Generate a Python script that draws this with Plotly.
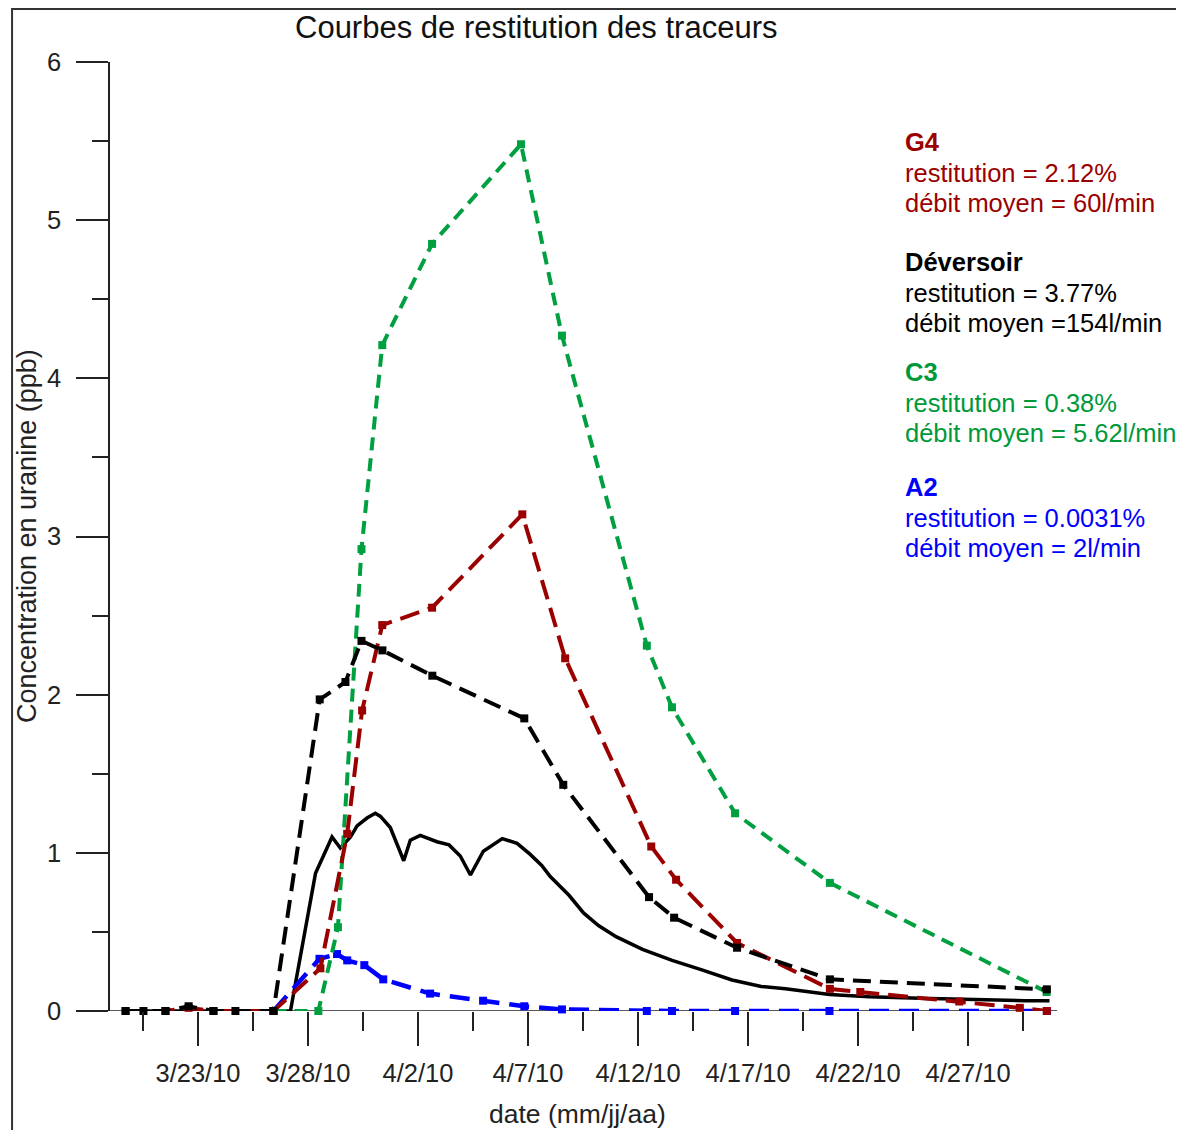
import plotly.graph_objects as go

# ---- data ----
dev_ech_x = ["2010-03-19 17:00", "2010-03-20 12:30", "2010-03-21 12:30", "2010-03-22 13:45",
             "2010-03-23 16:50", "2010-03-24 16:50", "2010-03-26 10:20", "2010-03-28 12:45",
             "2010-03-29 16:50", "2010-03-30 10:20", "2010-03-31 09:10", "2010-04-02 15:35",
             "2010-04-06 19:55", "2010-04-08 14:25", "2010-04-12 12:00", "2010-04-13 15:20",
             "2010-04-16 12:00", "2010-04-20 17:15", "2010-04-30 13:55"]
dev_ech_y = [0, 0, 0, 0.03, 0, 0, 0, 1.97, 2.08, 2.34, 2.28, 2.12, 1.85, 1.43, 0.72, 0.59, 0.40, 0.20, 0.137]

g4_x = ["2010-03-19 17:00", "2010-03-21 12:30", "2010-03-22 13:45", "2010-03-23 16:50",
        "2010-03-26 10:20", "2010-03-28 13:30", "2010-03-29 18:45", "2010-03-30 11:00",
        "2010-03-31 09:00", "2010-04-02 15:20", "2010-04-06 17:45", "2010-04-08 16:30",
        "2010-04-12 14:25", "2010-04-13 17:30", "2010-04-16 12:00", "2010-04-20 17:15",
        "2010-04-22 02:25", "2010-04-26 14:25", "2010-04-29 08:25", "2010-04-30 13:55"]
g4_y = [0, 0, 0.02, 0, 0, 0.27, 1.12, 1.90, 2.44, 2.55, 3.14, 2.23, 1.04, 0.83, 0.43, 0.14,
        0.12, 0.06, 0.02, 0.0]

a2_x = ["2010-03-26 10:20", "2010-03-28 12:30", "2010-03-29 07:40", "2010-03-29 18:45",
        "2010-03-30 13:25", "2010-03-31 10:05", "2010-04-02 13:10", "2010-04-04 23:00",
        "2010-04-06 19:55", "2010-04-08 13:00", "2010-04-12 09:35", "2010-04-13 13:00",
        "2010-04-16 09:50", "2010-04-20 16:50", "2010-04-30 13:55"]
a2_y = [0, 0.33, 0.36, 0.32, 0.29, 0.20, 0.11, 0.065, 0.03, 0.01, 0, 0, 0, 0, 0]

c3_x = ["2010-03-26 10:20", "2010-03-28 11:15", "2010-03-29 08:40", "2010-03-30 10:20",
        "2010-03-31 09:00", "2010-04-02 15:20", "2010-04-06 16:20", "2010-04-08 13:00",
        "2010-04-12 09:35", "2010-04-13 13:00", "2010-04-16 09:50", "2010-04-20 17:15",
        "2010-04-30 13:40"]
c3_y = [0, 0, 0.53, 2.92, 4.21, 4.85, 5.48, 4.27, 2.31, 1.92, 1.25, 0.81, 0.12]

dev_cont_x = ["2010-03-19 17:00", "2010-03-27 04:50", "2010-03-28 08:10", "2010-03-28 13:25",
              "2010-03-29 02:10", "2010-03-29 11:15", "2010-03-29 22:20", "2010-03-30 05:30",
              "2010-03-30 16:20", "2010-03-31 01:25", "2010-03-31 07:00", "2010-03-31 17:45",
              "2010-04-01 01:10", "2010-04-01 08:25", "2010-04-01 15:35", "2010-04-02 02:25",
              "2010-04-02 20:40", "2010-04-03 09:50", "2010-04-03 22:05", "2010-04-04 09:10",
              "2010-04-04 23:15", "2010-04-05 19:55", "2010-04-06 12:00", "2010-04-07 02:25",
              "2010-04-07 14:55", "2010-04-08 00:15", "2010-04-08 20:55", "2010-04-09 12:30",
              "2010-04-10 04:50", "2010-04-11 00:00", "2010-04-12 04:50", "2010-04-13 13:10",
              "2010-04-14 21:35", "2010-04-16 06:30", "2010-04-17 14:25", "2010-04-18 16:50",
              "2010-04-20 16:50", "2010-04-22 12:00", "2010-04-24 19:10", "2010-04-27 04:50",
              "2010-04-29 14:25", "2010-04-30 16:50"]
dev_cont_y = [0, 0, 0.87, 0.94, 1.10, 1.03, 1.10, 1.17, 1.22, 1.25, 1.23, 1.16, 1.06, 0.95,
              1.08, 1.11, 1.07, 1.05, 0.98, 0.86, 1.01, 1.09, 1.06, 0.99, 0.92, 0.85, 0.73,
              0.62, 0.54, 0.47, 0.39, 0.32, 0.26, 0.196, 0.155, 0.14, 0.105, 0.09, 0.08, 0.07,
              0.065, 0.065]

info_blocks = [
    ("G4", ["restitution = 2.12%", "débit moyen = 60l/min"], "#9B0000"),
    ("Déversoir", ["restitution = 3.77%", "débit moyen =154l/min"], "#000000"),
    ("C3", ["restitution = 0.38%", "débit moyen = 5.62l/min"], "#00993A"),
    ("A2", ["restitution = 0.0031%", "débit moyen = 2l/min"], "#0000FF"),
]
info_top_px = [142, 262, 372, 487]

FONT = "Liberation Sans, Arial, sans-serif"
RED = "#9B0000"
GREEN = "#00A040"
BLUE = "#0000FF"

OFF = 8  # page body margin
W, H = 1184 - OFF, 1130 - OFF
L = 110 - OFF
T = 62 - OFF
R = W - (1057.5 - OFF)
B = H - (1011 - OFF)
PW = W - L - R
PH = H - T - B


def px_x(p):
    return (p - OFF - L) / PW


def px_y(p):
    return (H - B - (p - OFF)) / PH


fig = go.Figure()

fig.add_trace(go.Scatter(x=dev_cont_x, y=dev_cont_y, mode="lines",
                         line=dict(color="black", width=3.5), cliponaxis=False))
fig.add_trace(go.Scatter(x=a2_x, y=a2_y, mode="lines+markers",
                         line=dict(color=BLUE, width=4.5, dash="20px,10px"),
                         marker=dict(symbol="square", size=8, color=BLUE), cliponaxis=False))
fig.add_trace(go.Scatter(x=c3_x, y=c3_y, mode="lines+markers",
                         line=dict(color=GREEN, width=4, dash="13px,8px"),
                         marker=dict(symbol="square", size=8, color=GREEN), cliponaxis=False))
fig.add_trace(go.Scatter(x=g4_x, y=g4_y, mode="lines+markers",
                         line=dict(color=RED, width=4, dash="20px,9px"),
                         marker=dict(symbol="square", size=8, color=RED), cliponaxis=False))
fig.add_trace(go.Scatter(x=dev_ech_x, y=dev_ech_y, mode="lines+markers",
                         line=dict(color="black", width=4, dash="18px,9px"),
                         marker=dict(symbol="square", size=8, color="black"), cliponaxis=False))

annotations = []
annotations.append(dict(text="Courbes de restitution des traceurs", x=px_x(536), y=px_y(27),
                        xref="paper", yref="paper", showarrow=False, xanchor="center",
                        yanchor="middle", font=dict(family=FONT, size=31, color="#111")))
annotations.append(dict(text="date (mm/jj/aa)", x=px_x(578), y=px_y(1114),
                        xref="paper", yref="paper", showarrow=False, xanchor="center",
                        yanchor="middle", font=dict(family=FONT, size=26.5, color="#222")))
annotations.append(dict(text="Concentration en uranine (ppb)", x=px_x(27), y=px_y(536),
                        xref="paper", yref="paper", showarrow=False, xanchor="center",
                        yanchor="middle", textangle=-90,
                        font=dict(family=FONT, size=27, color="#222")))
for (head, lines, col), top in zip(info_blocks, info_top_px):
    annotations.append(dict(text="<b>" + head + "</b>", x=px_x(903), y=px_y(top),
                            xref="paper", yref="paper", showarrow=False, xanchor="left",
                            yanchor="middle", font=dict(family=FONT, size=25.5, color=col)))
    for i, ln in enumerate(lines):
        annotations.append(dict(text=ln, x=px_x(903), y=px_y(top + 31 + 30 * i),
                                xref="paper", yref="paper", showarrow=False, xanchor="left",
                                yanchor="middle", font=dict(family=FONT, size=25.5, color=col)))

shapes = [
    dict(type="line", xref="paper", yref="y", x0=px_x(78), x1=1.0, y0=0, y1=0,
         line=dict(color="#222", width=1.5), layer="below"),
    dict(type="rect", xref="paper", yref="paper", x0=px_x(12), x1=px_x(1250),
         y0=px_y(1200), y1=px_y(9), line=dict(color="#333", width=2)),
]

fig.update_layout(
    width=W, height=H, autosize=False,
    margin=dict(l=L, r=R, t=T, b=B, pad=0),
    paper_bgcolor="white", plot_bgcolor="white",
    showlegend=False,
    annotations=annotations, shapes=shapes,
    font=dict(family=FONT, size=25, color="#222"),
)
fig.update_xaxes(
    type="date", range=["2010-03-19 00:00", "2010-05-01 01:00"],
    showgrid=False, zeroline=False, showline=False,
    ticks="outside", ticklen=34, tickwidth=1.5, tickcolor="#222",
    tick0="2010-03-23", dtick=5 * 86400000, tickformat="%-m/%-d/%y",
    ticklabelstandoff=5,
    tickfont=dict(family=FONT, size=25.5, color="#222"),
    minor=dict(ticks="outside", ticklen=19, tickwidth=1.5, tickcolor="#222",
               tick0="2010-03-23", dtick=2.5 * 86400000, showgrid=False),
)
fig.update_yaxes(
    range=[0, 6], showgrid=False, zeroline=False, showline=True,
    linecolor="#222", linewidth=1.5,
    ticks="outside", ticklen=32, tickwidth=1.5, tickcolor="#222",
    tick0=0, dtick=1, ticklabelstandoff=10,
    tickfont=dict(family=FONT, size=25.5, color="#222"),
    minor=dict(ticks="outside", ticklen=16, tickwidth=1.5, tickcolor="#222",
               dtick=0.5, showgrid=False),
)

fig.write_html("out.html")
